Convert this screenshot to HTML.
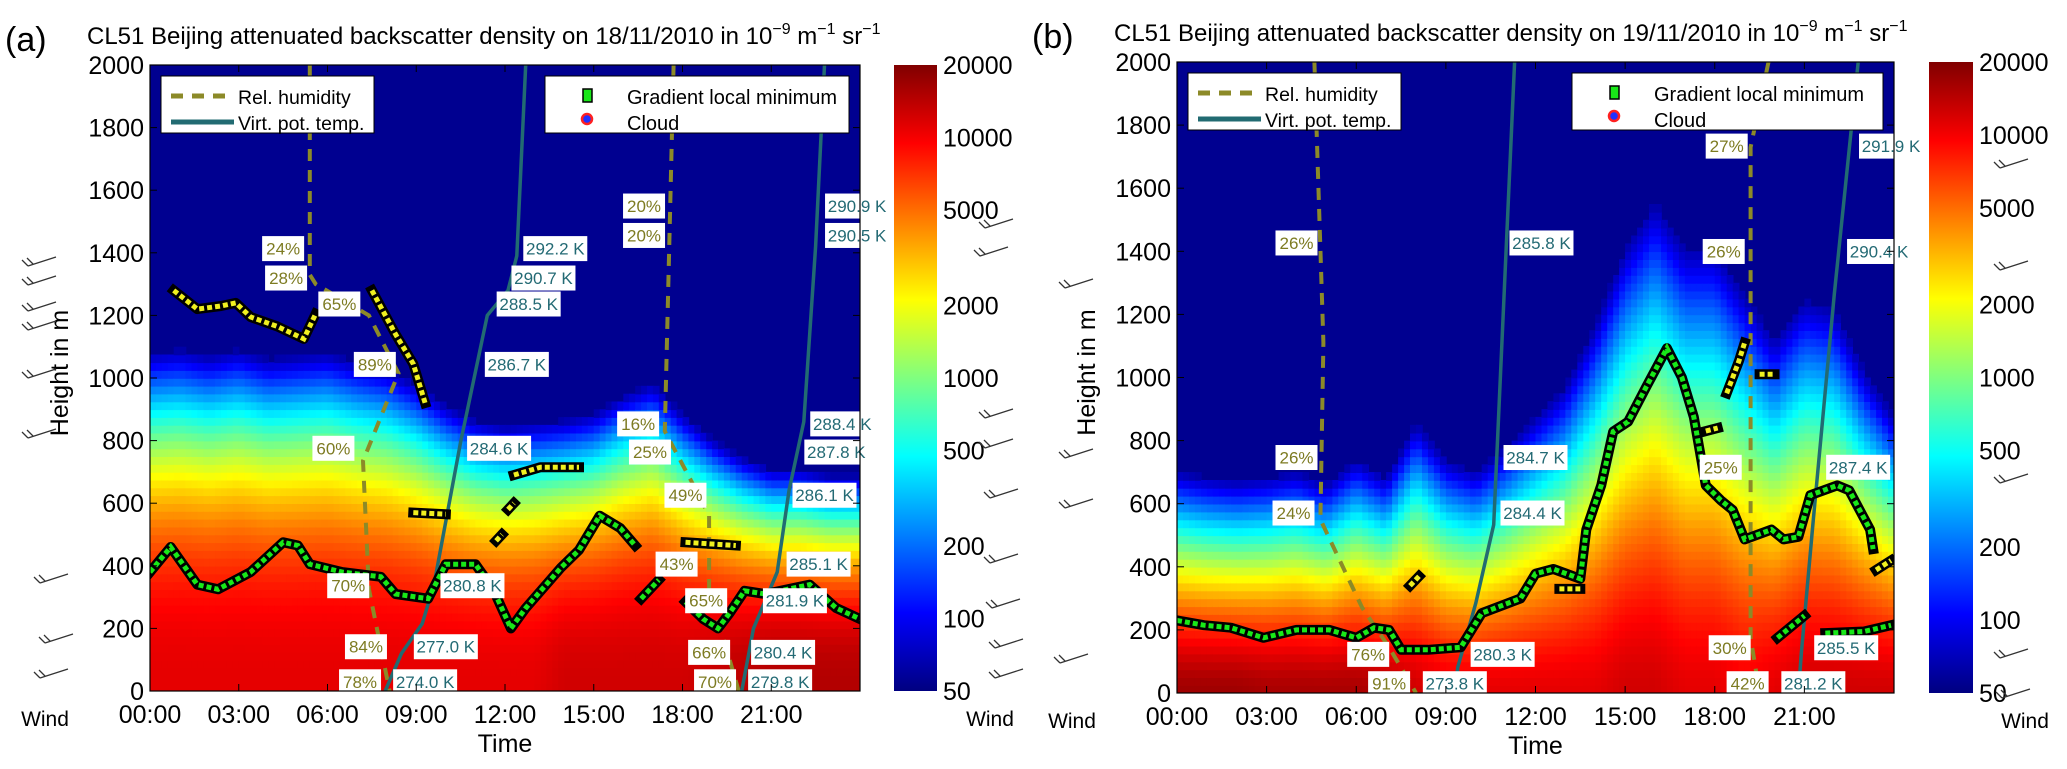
<!DOCTYPE html>
<html><head><meta charset="utf-8">
<style>
html,body{margin:0;padding:0;background:#fff;}
svg{display:block;font-family:"Liberation Sans",Arial,sans-serif;}
</style></head>
<body>
<svg id="fig" width="2067" height="769" viewBox="0 0 2067 769" xmlns="http://www.w3.org/2000/svg">
<defs>
<linearGradient id="jet" x1="0" y1="1" x2="0" y2="0">
<stop offset="0" stop-color="#000080"/><stop offset="0.125" stop-color="#0000ff"/>
<stop offset="0.375" stop-color="#00ffff"/><stop offset="0.625" stop-color="#ffff00"/>
<stop offset="0.875" stop-color="#ff0000"/><stop offset="1" stop-color="#800000"/>
</linearGradient>
<clipPath id="clipA"><rect x="150" y="65" width="710" height="626"/></clipPath>
<clipPath id="clipB"><rect x="1177" y="62" width="717" height="631"/></clipPath>
</defs>
</svg>
<script>
// ---------- DATA ----------
const hours = [0,1,2,3,4,5,6,7,8,9,10,11,12,13,14,15,16,17,18,19,20,21,22,23,24];
const layerTopA = [1100,1110,1090,1110,1080,1090,1100,1070,1050,1000,930,880,860,870,880,900,960,1000,900,820,760,720,720,700,700];
const surfA = [0.9,0.9,0.9,0.9,0.9,0.9,0.9,0.9,0.9,0.9,0.9,0.9,0.9,0.9,0.92,0.92,0.92,0.92,0.92,0.93,0.94,0.95,0.95,0.95,0.95];
const layerTopB = [720,700,690,700,720,680,760,700,880,760,720,800,900,1000,1200,1450,1600,1450,1450,1300,1150,1280,1250,1050,900];
const surfB = [0.97,0.97,0.97,0.96,0.96,0.96,0.96,0.95,0.92,0.9,0.9,0.9,0.9,0.9,0.9,0.92,0.92,0.9,0.9,0.88,0.9,0.92,0.92,0.92,0.92];

const heightTicks = [0,200,400,600,800,1000,1200,1400,1600,1800,2000];
const timeTicks = [0,3,6,9,12,15,18,21];
const timeTickLabels = ["00:00","03:00","06:00","09:00","12:00","15:00","18:00","21:00"];
const cbarTicks = [50,100,200,500,1000,2000,5000,10000,20000];

const gradA1 = [[0,380],[0.7,460],[1.6,340],[2.3,325],[3.4,380],[4.5,475],[5,465],[5.4,405],[6.5,380],[7.8,365],[8.3,310],[9.4,295],[10,405],[11,405],[11.6,325],[12.2,200],[12.7,265],[13.9,395],[14.5,450],[15.2,560],[15.9,520],[16.4,465]];
const gradA2 = [[16.6,295],[17.2,355]];
const gradA3 = [[18.1,285],[18.7,230],[19.2,200],[19.6,250],[20.1,320],[20.8,310],[22.3,340],[23.2,265],[24,230]];
const yellowA1 = [[0.8,1280],[1.6,1220],[2.4,1230],[2.9,1240],[3.4,1195],[4.3,1165],[5.2,1125],[5.6,1205]];
const yellowA2 = [[7.5,1280],[8.3,1140],[8.9,1045],[9.3,920]];
const yellowA3 = [[8.9,570],[10,565]];
const yellowA4 = [[12.3,690],[13.2,715],[14.5,715]];
const yellowA5 = [[18.1,475],[19.8,465]];
const yellowA6 = [[12.1,580],[12.3,600]];
const yellowA7 = [[11.7,480],[11.9,500]];
const gradB1 = [[0,230],[0.9,215],[1.8,207],[2.9,175],[4,200],[5.1,200],[6,175],[6.6,207],[7.1,200],[7.5,137],[8.4,137],[9.5,145],[10.2,253],[11.5,300],[12,378],[12.6,393],[13.5,362],[13.7,518],[14.2,658],[14.6,829],[15.1,860],[15.7,969],[16.4,1093],[16.9,1000],[17.3,875],[17.7,658],[18.2,611],[18.6,580],[19,487],[19.9,518],[20.3,487],[20.8,495],[21.2,627],[22.1,658],[22.5,642],[23.2,518],[23.3,456]];
const gradB2 = [[20.1,175],[21,245]];
const gradB3 = [[21.7,190],[23,195],[23.9,215]];
const yellowB1 = [[7.8,340],[8.1,370]];
const yellowB2 = [[12.8,330],[13.5,330]];
const yellowB3 = [[17.7,830],[18.1,840]];
const yellowB4 = [[18.4,950],[18.8,1050],[19,1110]];
const yellowB5 = [[19.5,1010],[20,1010]];
const yellowB6 = [[23.4,390],[23.9,420]];

const rhA1 = [[5.4,2000],[5.4,1330],[5.6,1300],[7.4,1200],[8.4,1015],[7.2,735],[7.4,326],[8.1,0]];
const rhA2 = [[17.7,2000],[17.4,830],[18.3,670],[18.9,560],[18.9,326],[19.9,0]];
const vptA1 = [[12.7,2000],[12.4,1390],[12.1,1280],[11.4,1200],[10.5,795],[9.6,340],[9.2,215],[8.5,120],[7.95,0]];
const vptA2 = [[22.8,2000],[22.5,1420],[22.1,860],[21.6,640],[21.2,380],[20.4,200],[20,0]];
const rhB1 = [[4.6,2000],[4.9,1110],[4.8,550],[6.2,270],[7.1,145],[8,0]];
const rhB2 = [[19.8,2000],[19.2,1730],[19.2,175],[19.5,0]];
const vptB1 = [[11.3,2000],[10.6,533],[10,285],[9.4,82],[9.3,0]];
const vptB2 = [[22.8,2000],[22,1264],[21.3,549],[20.9,129],[20.8,0]];

const rhLabelsA = [[4.5,1415,"24%"],[4.6,1321,"28%"],[6.4,1238,"65%"],[7.6,1045,"89%"],[6.2,777,"60%"],[6.7,338,"70%"],[7.3,143,"84%"],[7.1,31,"78%"],[16.7,1551,"20%"],[16.7,1457,"20%"],[16.5,855,"16%"],[16.9,765,"25%"],[18.1,627,"49%"],[17.8,407,"43%"],[18.8,290,"65%"],[18.9,125,"66%"],[19.1,31,"70%"]];
const tLabelsA = [[13.7,1415,"292.2 K"],[13.3,1321,"290.7 K"],[12.8,1238,"288.5 K"],[12.4,1045,"286.7 K"],[11.8,777,"284.6 K"],[10.9,338,"280.8 K"],[10,143,"277.0 K"],[9.3,31,"274.0 K"],[23.9,1551,"290.9 K"],[23.9,1457,"290.5 K"],[23.4,855,"288.4 K"],[23.2,765,"287.8 K"],[22.8,627,"286.1 K"],[22.6,407,"285.1 K"],[21.8,290,"281.9 K"],[21.4,125,"280.4 K"],[21.3,31,"279.8 K"]];
const rhLabelsB = [[4,1428,"26%"],[4,748,"26%"],[3.9,572,"24%"],[6.4,124,"76%"],[7.1,31,"91%"],[18.4,1735,"27%"],[18.3,1401,"26%"],[18.2,717,"25%"],[18.5,145,"30%"],[19.1,31,"42%"]];
const tLabelsB = [[12.2,1428,"285.8 K"],[12,748,"284.7 K"],[11.9,572,"284.4 K"],[10.9,124,"280.3 K"],[9.3,31,"273.8 K"],[23.9,1735,"291.9 K"],[23.5,1401,"290.4 K"],[22.8,717,"287.4 K"],[22.4,145,"285.5 K"],[21.3,31,"281.2 K"]];

// ---------- DRAW ----------
const NS = "http://www.w3.org/2000/svg";
const svg = document.getElementById("fig");
function mk(tag, attrs, parent){const e=document.createElementNS(NS,tag);for(const k in attrs)e.setAttribute(k,attrs[k]);(parent||svg).appendChild(e);return e;}
function jet(t){t=Math.max(0,Math.min(1,t));const c=v=>Math.round(255*Math.max(0,Math.min(1,v)));
  return "rgb("+c(1.5-Math.abs(4*t-3))+","+c(1.5-Math.abs(4*t-2))+","+c(1.5-Math.abs(4*t-1))+")";}
function interp(arr,h){const i=Math.min(23,Math.floor(h));const f=h-i;return arr[i]*(1-f)+arr[i+1]*f;}

function panel(P){
  const x = h => P.x0 + h/24*(P.x1-P.x0);
  const y = m => P.y1 - m/2000*(P.y1-P.y0);
  const g = mk("g",{"clip-path":"url(#"+P.clip+")"});
  
  
  mk("rect",{x:P.x0,y:P.y0,width:P.x1-P.x0,height:P.y1-P.y0,fill:"#000090"},g);
  const dh=0.2, dm=25;
  for(let h=0; h<24; h+=dh){
    const top=interp(P.top,h+dh/2), s=interp(P.surf,h+dh/2);
    for(let m=0;m<top;m+=dm){
      const r=(m+dm/2)/top; let t=s*(1-Math.pow(r,P.exp)); if(t<0.04)continue;
      const c=mk("rect",{x:x(h).toFixed(1),y:y(m+dm).toFixed(1),width:(x(dh)-x(0)+0.8).toFixed(1),height:(y(0)-y(dm)+0.8).toFixed(1),fill:jet(t)},g);
      
      
    }
  }
  const pts = a => a.map(p=>x(p[0]).toFixed(1)+","+y(p[1]).toFixed(1)).join(" ");
  P.rh.forEach(a=>{const l=mk("polyline",{points:pts(a),fill:"none",stroke:"#8c8a28","stroke-width":4,"stroke-dasharray":"12 9"},g);
    
    });
  P.vpt.forEach(a=>{const l=mk("polyline",{points:pts(a),fill:"none",stroke:"#226b72","stroke-width":3.5},g);
    
    });
  function track(a,col){
    mk("polyline",{points:pts(a),fill:"none",stroke:"#000","stroke-width":10,"stroke-linejoin":"round","stroke-linecap":"square"},g);
    const l=mk("polyline",{points:pts(a),fill:"none",stroke:col,"stroke-width":5,"stroke-dasharray":"5 3"},g);
    
    
  }
  P.green.forEach(a=>track(a,"#18e818"));
  P.yellow.forEach(a=>track(a,"#f0f020"));
  function lab(L,col){L.forEach(d=>{
    const w=d[2].length>4?64:42, cx=x(d[0]), cy=y(d[1]);
    const b=mk("rect",{x:cx-w/2,y:cy-12,width:w,height:25,fill:"#fff"});
    
    
    const t=mk("text",{x:cx,y:cy+6.5,"text-anchor":"middle","font-size":17,fill:col});
    t.textContent=d[2];
    
    
  });}
  lab(P.rhL,"#7d7b22"); lab(P.tL,"#236a74");
  const fr=mk("rect",{x:P.x0,y:P.y0,width:P.x1-P.x0,height:P.y1-P.y0,fill:"none",stroke:"#000","stroke-width":1.2});
  
  
  heightTicks.forEach(m=>{
    mk("line",{x1:P.x0,x2:P.x0+7,y1:y(m),y2:y(m),stroke:"#000"});
    mk("line",{x1:P.x1,x2:P.x1-7,y1:y(m),y2:y(m),stroke:"#000"});
    const t=mk("text",{x:P.x0-6,y:y(m)+9,"text-anchor":"end","font-size":25});
    t.textContent=m;
    
    
  });
  timeTicks.forEach((h,i)=>{
    mk("line",{x1:x(h),x2:x(h),y1:P.y1,y2:P.y1-7,stroke:"#000"});
    mk("line",{x1:x(h),x2:x(h),y1:P.y0,y2:P.y0+7,stroke:"#000"});
    const t=mk("text",{x:x(h),y:P.y1+32,"text-anchor":"middle","font-size":25});
    t.textContent=timeTickLabels[i];
    
    
  });
  let t=mk("text",{x:(P.x0+P.x1)/2,y:P.y1+61,"text-anchor":"middle","font-size":25});
  t.textContent="Time";
  
  
  t=mk("text",{x:0,y:0,"text-anchor":"middle","font-size":25,transform:"translate("+(P.x0-82)+","+((P.y0+P.y1)/2-5)+") rotate(-90)"});
  t.textContent="Height in m";
  
  
  t=mk("text",{x:P.x0-105,y:P.y1+35,"text-anchor":"middle","font-size":21});
  t.textContent="Wind";
  
  
  t=mk("text",{x:P.cb0+96,y:P.y1+35,"text-anchor":"middle","font-size":21});
  t.textContent="Wind";
  
  
  t=mk("text",{x:P.x0-145,y:P.y0-14,"font-size":34});
  t.textContent=P.letter;
  
  
  t=mk("text",{x:P.x0-63,y:P.y0-21,"font-size":24});
  t.innerHTML='CL51 Beijing attenuated backscatter density on '+P.date+' in 10<tspan dy="-10" font-size="16">−9</tspan><tspan dy="10"> m</tspan><tspan dy="-10" font-size="16">−1</tspan><tspan dy="10"> sr</tspan><tspan dy="-10" font-size="16">−1</tspan>';
  
  
  const cb=mk("rect",{x:P.cb0,y:P.y0,width:P.cb1-P.cb0,height:P.y1-P.y0,fill:"url(#jet)"});
  
  
  const cy=v=>P.y1-Math.log(v/50)/Math.log(400)*(P.y1-P.y0);
  cbarTicks.forEach(v=>{
    const tt=mk("text",{x:P.cb1+6,y:cy(v)+9,"font-size":25});
    tt.textContent=v;
    
    
  });
  const lg=mk("g",{});
  
  
  const lx=P.x0+11, ly=P.y0+11;
  mk("rect",{x:lx,y:ly,width:213,height:57,fill:"#fff",stroke:"#000"},lg);
  mk("line",{x1:lx+10,x2:lx+73,y1:ly+20,y2:ly+20,stroke:"#8c8a28","stroke-width":5,"stroke-dasharray":"12 9"},lg);
  mk("line",{x1:lx+10,x2:lx+73,y1:ly+46,y2:ly+46,stroke:"#226b72","stroke-width":5},lg);
  let e=mk("text",{x:lx+77,y:ly+28,"font-size":19.5},lg); e.textContent="Rel. humidity";
  e=mk("text",{x:lx+77,y:ly+54,"font-size":19.5},lg); e.textContent="Virt. pot. temp.";
  const rg=mk("g",{});
  
  
  const rx=P.x0+395, rw=(P.x1-11)-rx;
  mk("rect",{x:rx,y:ly,width:rw,height:57,fill:"#fff",stroke:"#000"},rg);
  mk("rect",{x:rx+38,y:ly+13,width:9,height:13,fill:"#18e818",stroke:"#000","stroke-width":1.5},rg);
  mk("circle",{cx:rx+42,cy:ly+43,r:5,fill:"#2030ff",stroke:"#ff2020","stroke-width":2.5},rg);
  e=mk("text",{x:rx+82,y:ly+28,"font-size":20},rg); e.textContent="Gradient local minimum";
  e=mk("text",{x:rx+82,y:ly+54,"font-size":20},rg); e.textContent="Cloud";
}

panel({id:"panel-a",letter:"(a)",date:"18/11/2010",x0:150,x1:860,y0:65,y1:691,cb0:894,cb1:937,clip:"clipA",
  top:layerTopA,surf:surfA,exp:2.5,rh:[rhA1,rhA2],vpt:[vptA1,vptA2],
  green:[gradA1,gradA2,gradA3],yellow:[yellowA1,yellowA2,yellowA3,yellowA4,yellowA5,yellowA6,yellowA7],rhL:rhLabelsA,tL:tLabelsA});
panel({id:"panel-b",letter:"(b)",date:"19/11/2010",x0:1177,x1:1894,y0:62,y1:693,cb0:1929,cb1:1973,clip:"clipB",
  top:layerTopB,surf:surfB,exp:1.6,rh:[rhB1,rhB2],vpt:[vptB1,vptB2],
  green:[gradB1,gradB2,gradB3],yellow:[yellowB1,yellowB2,yellowB3,yellowB4,yellowB5,yellowB6],rhL:rhLabelsB,tL:tLabelsB});

const barbs = [[28,258],[28,277],[28,303],[28,322],[28,370],[28,430],[40,575],[45,635],[40,670],
  [985,220],[980,248],[985,410],[985,440],[990,490],[990,555],[992,600],[995,640],[995,670],
  [1065,280],[1065,450],[1065,500],[1060,655],[2000,160],[2000,262],[2000,475],[2000,650],[2002,690]];
barbs.forEach(b=>{
  const p=mk("path",{d:"M"+b[0]+","+(b[1]+8)+" l28,-9 M"+b[0]+","+(b[1]+8)+" l-6,-6 M"+(b[0]+5)+","+(b[1]+6)+" l-6,-6",fill:"none",stroke:"#333","stroke-width":1.3});
  
  
});
</script>
</body></html>
